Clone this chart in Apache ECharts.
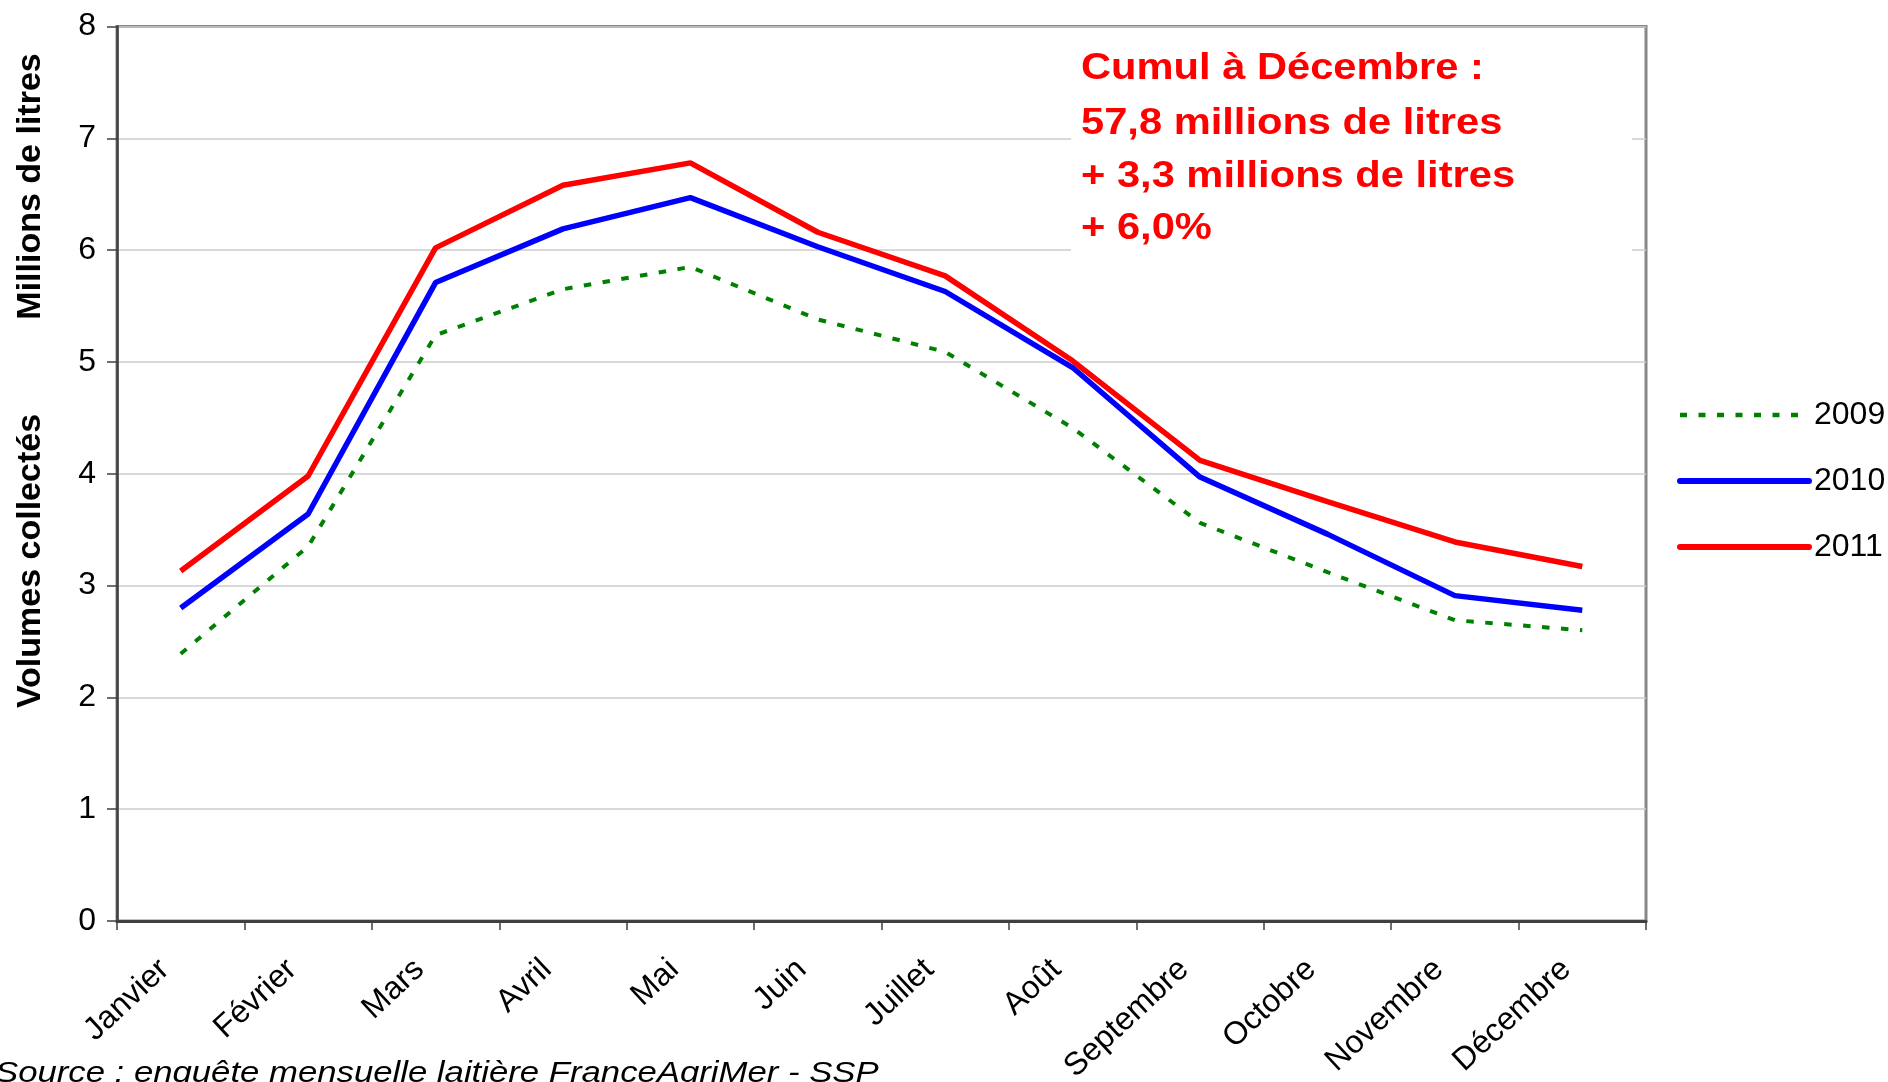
<!DOCTYPE html>
<html>
<head>
<meta charset="utf-8">
<script src="https://cdn.jsdelivr.net/npm/echarts@6/dist/echarts.min.js"></script>
<style>
html,body{margin:0;padding:0;background:#fff;}
#chart{width:1888px;height:1082px;}
</style>
</head>
<body>
<div id="chart"></div>
<script>
var categories = ['Janvier','Février','Mars','Avril','Mai','Juin','Juillet','Août','Septembre','Octobre','Novembre','Décembre'];
var v2009 = [2.39, 3.35, 5.24, 5.65, 5.85, 5.38, 5.09, 4.41, 3.56, 3.12, 2.69, 2.60];
var v2010 = [2.80, 3.64, 5.71, 6.19, 6.47, 6.03, 5.63, 4.95, 3.97, 3.46, 2.91, 2.78];
var v2011 = [3.13, 3.98, 6.02, 6.58, 6.78, 6.16, 5.77, 5.01, 4.12, 3.75, 3.39, 3.17];
var yTicks = [0, 8, 1];
var annotation = ['Cumul à Décembre :', '57,8 millions de litres', '+ 3,3 millions de litres', '+ 6,0%'];
var yTitleTop = 'Millions de litres';
var yTitleBottom = 'Volumes collectés';
var sourceText = 'Source : enquête mensuelle laitière FranceAgriMer - SSP';

var chart = echarts.init(document.getElementById('chart'), null, {renderer: 'canvas'});
var tickFont = 'Liberation Sans';
var annY = [69, 124, 177, 229.5];
var graphics = [
  {type: 'rect', z: 5, shape: {x: 1071, y: 32, width: 561, height: 226}, style: {fill: '#ffffff'}},
  {type: 'text', z: 10, x: 31, y: 186.5, rotation: Math.PI / 2,
    style: {text: yTitleTop, font: 'bold 34px "Liberation Sans"', fill: '#000', align: 'center', verticalAlign: 'middle'}},
  {type: 'text', z: 10, x: 31, y: 561, rotation: Math.PI / 2,
    style: {text: yTitleBottom, font: 'bold 34px "Liberation Sans"', fill: '#000', align: 'center', verticalAlign: 'middle'}},
  {type: 'text', z: 10, x: -5, y: 1074, scaleX: 1.157,
    style: {text: sourceText, font: 'italic 30px "Liberation Sans"', fill: '#000', align: 'left', verticalAlign: 'middle'}}
];
annotation.forEach(function (t, i) {
  graphics.push({type: 'text', z: 10, x: 1081, y: annY[i], scaleX: 1.157,
    style: {text: t, font: 'bold 36px "Liberation Sans"', fill: '#ff0000', align: 'left', verticalAlign: 'middle'}});
});

var option = {
  animation: false,
  backgroundColor: '#ffffff',
  grid: {left: 117, top: 26.5, right: 242, bottom: 161, show: true, borderColor: '#888888', borderWidth: 3,
    backgroundColor: 'transparent', containLabel: false, outerBoundsMode: 'none'},
  legend: {
    orient: 'vertical', left: 1672, top: 390,
    itemWidth: 129, itemHeight: 14, itemGap: 26,
    itemStyle: {opacity: 0},
    data: [
      {name: '2009', lineStyle: {color: '#008000', width: 4.5, type: [7, 11.5]}},
      {name: '2010', lineStyle: {color: '#0000ff', width: 6, cap: 'round'}},
      {name: '2011', lineStyle: {color: '#ff0000', width: 6, cap: 'round'}}
    ],
    textStyle: {fontSize: 32, fontFamily: 'Liberation Sans', color: '#000', lineHeight: 40}
  },
  xAxis: {
    type: 'category', data: categories, boundaryGap: true,
    axisLine: {lineStyle: {color: '#404040', width: 3}},
    axisTick: {show: true, inside: false, length: 9, lineStyle: {color: '#404040', width: 1.5}},
    axisLabel: {rotate: 43, margin: 29, padding: [0, 22, 0, 0], fontSize: 32, fontFamily: tickFont, color: '#000', interval: 0},
    splitLine: {show: false}
  },
  yAxis: {
    type: 'value', min: yTicks[0], max: yTicks[1], interval: yTicks[2],
    axisLine: {show: true, lineStyle: {color: '#404040', width: 2.5}},
    axisTick: {show: true, inside: false, length: 10, lineStyle: {color: '#404040', width: 1.5}},
    axisLabel: {margin: 21, fontSize: 32, fontFamily: tickFont, color: '#000'},
    splitLine: {show: true, lineStyle: {color: '#cccccc', width: 1.5}}
  },
  series: [
    {name: '2009', type: 'line', data: v2009, symbol: 'none', z: 3,
      lineStyle: {color: '#008000', width: 4, type: [7.5, 11.5]}, itemStyle: {color: '#008000'}},
    {name: '2010', type: 'line', data: v2010, symbol: 'none', z: 4,
      lineStyle: {color: '#0000ff', width: 5.5}, itemStyle: {color: '#0000ff'}},
    {name: '2011', type: 'line', data: v2011, symbol: 'none', z: 5,
      lineStyle: {color: '#ff0000', width: 5.5}, itemStyle: {color: '#ff0000'}}
  ],
  graphic: graphics
};
chart.setOption(option);
</script>
</body>
</html>
